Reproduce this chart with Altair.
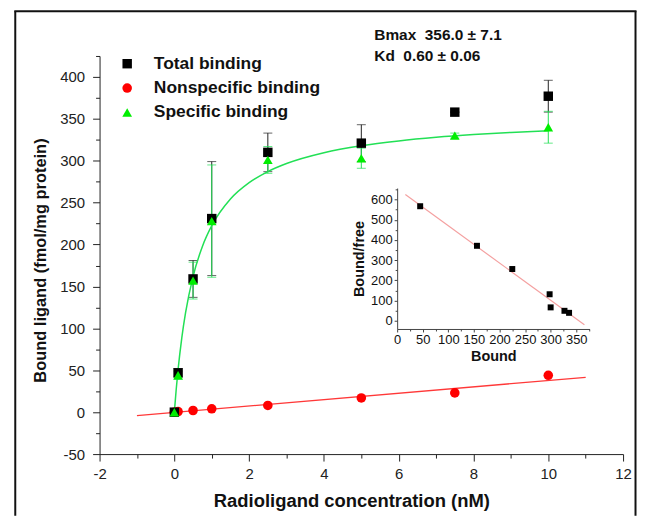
import altair as alt
import pandas as pd

# ---------------- data ----------------
conc = [0, 0.1, 0.5, 1, 2.5, 5, 7.5, 10]
total = [0, 47, 159, 231, 310, 321, 358, 377]
total_err = [0, 5, 22, 68, 23, 22, 0, 19]
nonspec = [0, 0.8, 2, 4, 8, 17, 23, 44]
spec = [0, 44, 157, 228, 301, 303, 330, 340]
spec_err = [0, 5, 22, 67, 16, 12, 3, 19]

series_names = ["Total binding", "Nonspecific binding", "Specific binding"]
series_colors = ["#000000", "#ff0000", "#00ee00"]
series_shapes = ["square", "circle", "triangle-up"]
series_sizes = [90, 95, 150]

# fitted lines as drawn
nonspec_fit_x = [-1, 11]
nonspec_fit_y = [-4, 41.6]
curve_x = [0, 0.05, 0.1, 0.2, 0.3, 0.5, 0.75, 1, 1.5, 2, 2.5, 3, 4, 5, 6, 7, 8, 9, 10]
curve_y = [0, 27.4, 50.9, 89, 118.7, 161.8, 197.8, 222.5, 254.3, 273.8, 287.1,
           296.7, 309.6, 317.9, 323.6, 327.9, 331.2, 333.8, 335.8]

# inset (Scatchard)
inset_bound = [45, 156, 225, 298, 300, 327, 336]
inset_bf = [567, 371, 256, 131, 66, 49, 39]
inset_fit_x = [16, 366]
inset_fit_y = [625, -20]

annotations = ["Bmax\u00a0 356.0 \u00b1 7.1", "Kd\u00a0 0.60 \u00b1 0.06"]

# ---------------- tables ----------------
pts = []
for name, vals in [("Nonspecific binding", nonspec), ("Total binding", total), ("Specific binding", spec)]:
    for c, v in zip(conc, vals):
        pts.append({"x": c, "y": v, "series": name})
pts = pd.DataFrame(pts)

err_total = pd.DataFrame({"x": conc, "y": [v - e for v, e in zip(total, total_err)],
                          "y2": [v + e for v, e in zip(total, total_err)]})
err_spec = pd.DataFrame({"x": conc, "y": [v - e for v, e in zip(spec, spec_err)],
                         "y2": [v + e for v, e in zip(spec, spec_err)]})
fit_df = pd.DataFrame({"x": nonspec_fit_x, "y": nonspec_fit_y})
curve_df = pd.DataFrame({"x": curve_x, "y": curve_y})
inset_df = pd.DataFrame({"x": inset_bound, "y": inset_bf})
inset_fit_df = pd.DataFrame({"x": inset_fit_x, "y": inset_fit_y})

FONT = "Liberation Sans"
W, H = 526, 400

xaxis = alt.Axis(
    values=list(range(-2, 13)),
    labelExpr="datum.value % 2 === 0 ? '' + datum.value : ''",
    tickSize={"condition": {"test": "datum.value % 2 === 0", "value": 7}, "value": 4},
    title="Radioligand concentration (nM)", grid=False,
    domainColor="#222", tickColor="#222", labelColor="#222",
    labelFont=FONT, labelFontSize=15, labelPadding=6, labelFlush=False, labelOverlap=False,
    titleFont=FONT, titleFontSize=18.5, titleFontWeight="bold", titleColor="#111", titlePadding=10,
    titleX=253,
)
yaxis = alt.Axis(
    values=list(range(-50, 426, 25)),
    labelExpr="datum.value % 50 === 0 ? '' + datum.value : ''",
    tickSize={"condition": {"test": "datum.value % 50 === 0", "value": 7}, "value": 4},
    title="Bound ligand (fmol/mg protein)", grid=False,
    domainColor="#222", tickColor="#222", labelColor="#222",
    labelFont=FONT, labelFontSize=15, labelPadding=8, labelFlush=False, labelOverlap=False,
    titleFont=FONT, titleFontSize=16.5, titleFontWeight="bold", titleColor="#111", titlePadding=11,
    titleY=205,
)
xs = alt.Scale(domain=[-2, 12], nice=False, zero=False)
ys = alt.Scale(domain=[-50, 425], nice=False, zero=False)


def X(f="x"):
    return alt.X(f"{f}:Q", scale=xs, axis=xaxis)


def Y(f="y"):
    return alt.Y(f"{f}:Q", scale=ys, axis=yaxis)


one = alt.Data(values=[{}])

# figure frame (left, top, right edges)
FL, FR, FT, FB = -84.7, 538.5, -45, 462
frame_style = dict(color="#111", strokeWidth=2)
frame = alt.layer(
    alt.Chart(one).mark_rule(**frame_style).encode(x=alt.value(FL), y=alt.value(FT), y2=alt.value(FB)),
    alt.Chart(one).mark_rule(**frame_style).encode(x=alt.value(FR), y=alt.value(FT), y2=alt.value(FB)),
    alt.Chart(one).mark_rule(**frame_style).encode(x=alt.value(FL - 1), x2=alt.value(FR + 1), y=alt.value(FT)),
)

fit_line = alt.Chart(fit_df).mark_line(color="#ff3838", strokeWidth=1.3).encode(x=X(), y=Y())
curve = alt.Chart(curve_df).mark_line(color="#22e055", strokeWidth=1.5, interpolate="monotone").encode(x=X(), y=Y())


def errbars(df, color):
    rule = alt.Chart(df).mark_rule(color=color, strokeWidth=1).encode(x=X(), y=Y(), y2=alt.Y2("y2:Q"))
    lo = alt.Chart(df).mark_tick(color=color, orient="horizontal", size=9, thickness=1).encode(x=X(), y=Y())
    hi = alt.Chart(df).mark_tick(color=color, orient="horizontal", size=9, thickness=1).encode(x=X(), y=Y("y2"))
    return rule + lo + hi


points = alt.Chart(pts).mark_point(filled=True, opacity=1, strokeWidth=0).encode(
    x=X(), y=Y(),
    color=alt.Color("series:N", scale=alt.Scale(domain=series_names, range=series_colors),
                    legend=alt.Legend(orient="none", legendX=19, legendY=-1, title=None,
                                      labelFont=FONT, labelFontSize=17.5, labelFontWeight="bold",
                                      labelColor="#111", symbolSize=110, rowPadding=5.5,
                                      labelOffset=18, labelLimit=400, symbolStrokeWidth=0, padding=0)),
    shape=alt.Shape("series:N", scale=alt.Scale(domain=series_names, range=series_shapes)),
    size=alt.Size("series:N", scale=alt.Scale(domain=series_names, range=series_sizes), legend=None),
)

txt1 = alt.Chart(one).mark_text(text=annotations[0], align="left", baseline="middle", font=FONT,
                                fontSize=15.5, fontWeight="bold", color="#111").encode(
    x=alt.value(276), y=alt.value(-21.5))
txt2 = alt.Chart(one).mark_text(text=annotations[1], align="left", baseline="middle", font=FONT,
                                fontSize=15.5, fontWeight="bold", color="#111").encode(
    x=alt.value(276), y=alt.value(0))

main = alt.layer(frame, fit_line, errbars(err_total, "#222"), errbars(err_spec, "#22e055"),
                 curve, points, txt1, txt2)

# inset
ixs = alt.Scale(domain=[0, 376], range=[299, 492.3], nice=False, zero=False)
iys = alt.Scale(domain=[-41, 657], range=[274.3, 132.7], nice=False, zero=False)
ixaxis = alt.Axis(
    orient="bottom", offset=-125.7, values=list(range(0, 376, 25)),
    labelExpr="datum.value % 50 === 0 ? '' + datum.value : ''",
    tickSize={"condition": {"test": "datum.value % 50 === 0", "value": 3}, "value": 2},
    title="Bound", grid=False, domainColor="#444", tickColor="#444", labelColor="#111",
    labelFont=FONT, labelFontSize=13, labelPadding=2, labelFlush=False, labelOverlap=False,
    titleFont=FONT, titleFontSize=14.5, titleFontWeight="bold", titleColor="#111", titlePadding=3,
)
iyaxis = alt.Axis(
    orient="left", offset=-299, values=list(range(0, 651, 50)),
    labelExpr="datum.value % 100 === 0 ? '' + datum.value : ''",
    tickSize={"condition": {"test": "datum.value % 100 === 0", "value": 3}, "value": 2},
    title="Bound/free", grid=False, domainColor="#444", tickColor="#444", labelColor="#111",
    labelFont=FONT, labelFontSize=13, labelPadding=2, labelFlush=False, labelOverlap=False,
    titleFont=FONT, titleFontSize=14.5, titleFontWeight="bold", titleColor="#111", titlePadding=4,
)
inset_line = alt.Chart(inset_fit_df).mark_line(color="#f4a0a0", strokeWidth=1.2).encode(
    x=alt.X("x:Q", scale=ixs, axis=ixaxis), y=alt.Y("y:Q", scale=iys, axis=iyaxis))
inset_pts = alt.Chart(inset_df).mark_point(shape="square", filled=True, color="#000", size=36,
                                           opacity=1, strokeWidth=0).encode(
    x=alt.X("x:Q", scale=ixs, axis=ixaxis), y=alt.Y("y:Q", scale=iys, axis=iyaxis))
inset = alt.layer(inset_line, inset_pts)

chart = alt.layer(main, inset).resolve_scale(x="independent", y="independent").properties(
    width=W, height=H, padding={"left": 5, "top": 1, "right": 0, "bottom": 0},
    background="white",
).configure_view(stroke=None)

chart.save("out.html", embed_options={"renderer": "svg", "actions": False})
